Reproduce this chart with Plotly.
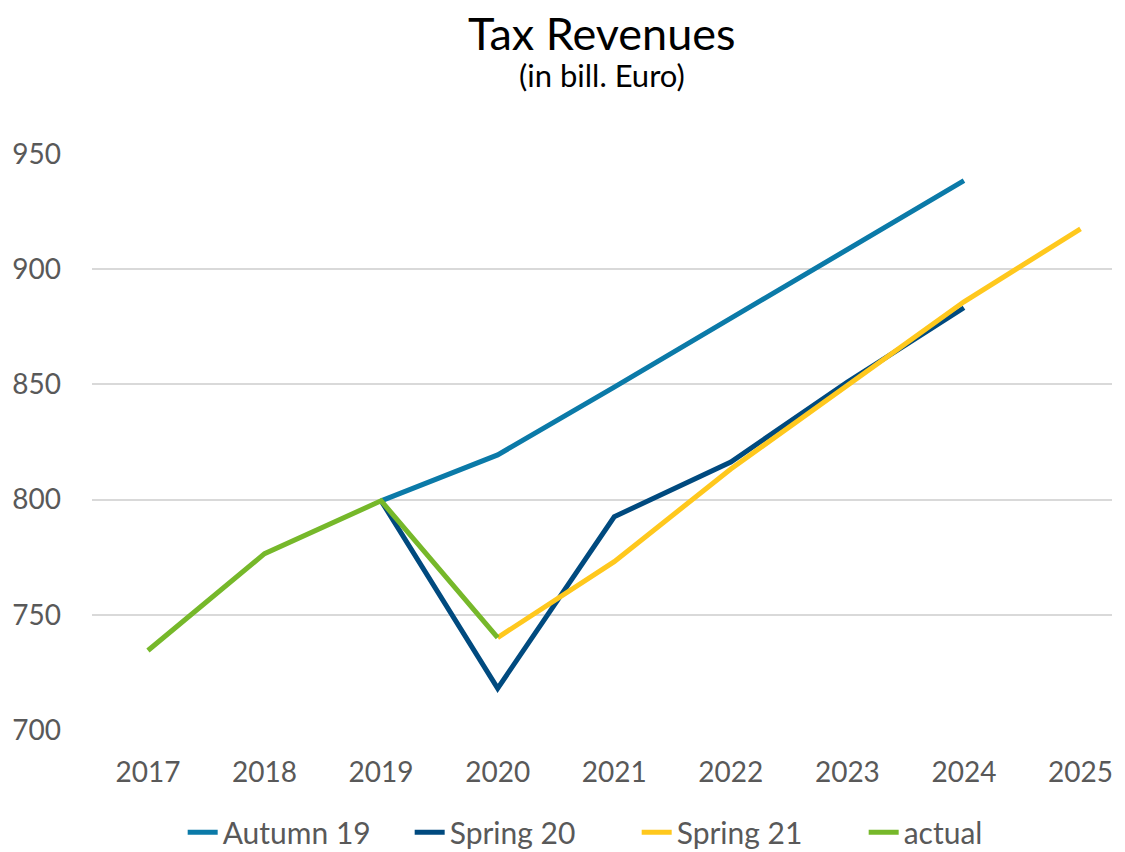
import plotly.graph_objects as go

# Data (bill. Euro)
years_autumn19 = [2019, 2020, 2021, 2022, 2023, 2024]
autumn19 = [799.5, 819.4, 848.8, 878.6, 908.5, 938.3]

years_spring20 = [2019, 2020, 2021, 2022, 2023, 2024]
spring20 = [799.5, 718.2, 792.6, 816.3, 851.0, 883.2]

years_spring21 = [2020, 2021, 2022, 2023, 2024, 2025]
spring21 = [740.2, 773.1, 813.3, 849.5, 885.8, 917.4]

years_actual = [2017, 2018, 2019, 2020]
actual = [734.6, 776.6, 799.5, 740.2]

tick_years = [2017, 2018, 2019, 2020, 2021, 2022, 2023, 2024, 2025]
y_ticks = [700, 750, 800, 850, 900, 950]

series = [
    ("Autumn 19", years_autumn19, autumn19, "#0b7aa8"),
    ("Spring 20", years_spring20, spring20, "#004a7f"),
    ("Spring 21", years_spring21, spring21, "#ffc81d"),
    ("actual", years_actual, actual, "#76b82a"),
]

fig = go.Figure()
for name, xs, ys, color in series:
    fig.add_trace(go.Scatter(
        x=xs, y=ys, name=name, mode="lines",
        line=dict(color=color, width=5),
    ))

font_family = "Lato"

# the page adds an 8px body margin, so the figure is 8px smaller than the window
fig.update_layout(
    width=1117,
    height=844,
    paper_bgcolor="white",
    plot_bgcolor="white",
    font=dict(family=font_family, color="#595959", size=28),
    margin=dict(l=84, r=13, t=145, b=121, autoexpand=False),
    showlegend=True,
    legend=dict(
        orientation="h",
        x=0.534, xanchor="center",
        y=-0.175, yanchor="middle",
        font=dict(size=30, color="#595959"),
        traceorder="normal",
        entrywidth=182,
        itemwidth=30,
    ),
)

# Title and subtitle
fig.add_annotation(
    text="Tax Revenues", xref="paper", yref="paper", x=0.5, y=1.207,
    xanchor="center", yanchor="middle", showarrow=False,
    font=dict(size=45, color="black", family=font_family),
)
fig.add_annotation(
    text="(in bill. Euro)", xref="paper", yref="paper", x=0.5, y=1.135,
    xanchor="center", yanchor="middle", showarrow=False,
    font=dict(size=31, color="black", family=font_family),
)

fig.update_xaxes(
    range=[2016.52, 2025.27],
    tickvals=tick_years,
    ticktext=[str(y) for y in tick_years],
    showgrid=False,
    zeroline=False,
    showline=False,
    ticks="",
    ticklabelstandoff=22,
    automargin=False,
)
fig.update_yaxes(
    range=[699.7, 950.3],
    tickvals=y_ticks,
    showgrid=True,
    gridcolor="#d9d9d9",
    gridwidth=2,
    zeroline=False,
    showline=False,
    ticks="",
    ticklabelstandoff=30,
    automargin=False,
)

fig.write_html("out.html")
